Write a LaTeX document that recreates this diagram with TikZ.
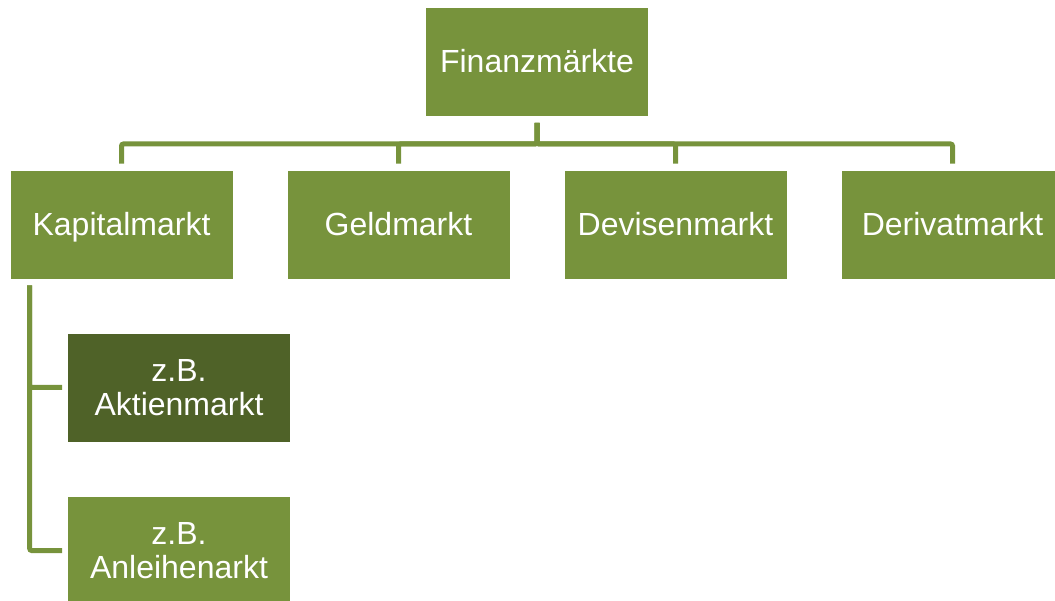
\documentclass[tikz,border=0pt]{standalone}
\usepackage{fontspec}
\setmainfont{Liberation Sans}
\definecolor{olive}{HTML}{77933C}
\definecolor{darkolive}{HTML}{4F6228}
\begin{document}
\begin{tikzpicture}[x=1pt,y=-1pt,
  box/.style={fill=olive, draw=white, line width=0.6pt, minimum width=223pt, minimum height=109pt,
    inner sep=0pt, text=white, align=center, font=\fontsize{32}{34}\selectfont},
  oneline/.style={text height=22pt, text depth=0pt},
  conn/.style={draw=olive, line width=5pt, rounded corners=2pt}]
\path[use as bounding box, clip] (0,0) rectangle (1055,601);
\node[box, oneline] (top) at (537,62) {Finanzmärkte};
\node[box, oneline] (kap) at (121.5,224.5) {Kapitalmarkt};
\node[box, oneline] (geld) at (398.5,224.5) {Geldmarkt};
\node[box, oneline] (dev) at (675.5,224.5) {Devisenmarkt};
\node[box, oneline] (der) at (952.5,224.5) {Derivatmarkt};
\node[box, fill=darkolive] (akt) at (179,387.5) {z.B.\\Aktienmarkt};
\node[box] (anl) at (179,550.5) {z.B.\\Anleihenarkt};
\coordinate (bus) at (537,144);
\foreach \c in {kap,geld,dev,der}{
  \draw[conn] ([yshift=-6pt]top.south) -- (bus) -| ([yshift=6pt]\c.north);
}
\foreach \c in {akt,anl}{
  \draw[conn] ([xshift=20pt,yshift=-6pt]kap.south west) |- ([xshift=-5pt]\c.west);
}
\end{tikzpicture}
\end{document}
